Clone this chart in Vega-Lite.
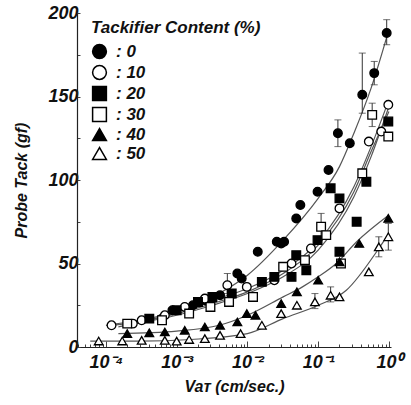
{
  "$schema": "https://vega.github.io/schema/vega-lite/v6.json",
  "autosize": {"type": "none"},
  "padding": {"left": 77, "top": 13, "right": 20, "bottom": 58},
  "width": 314,
  "height": 334,
  "background": "white",
  "config": {"view": {"stroke": null}},
  "datasets": {
    "pts": [
      {"s": "0", "x": 0.00062, "y": 17},
      {"s": "0", "x": 0.00087, "y": 22},
      {"s": "0", "x": 0.0017, "y": 25},
      {"s": "0", "x": 0.0025, "y": 28},
      {"s": "0", "x": 0.0041, "y": 31},
      {"s": "0", "x": 0.0072, "y": 44},
      {"s": "0", "x": 0.0083, "y": 41},
      {"s": "0", "x": 0.014, "y": 57},
      {"s": "0", "x": 0.026, "y": 63},
      {"s": "0", "x": 0.033, "y": 63},
      {"s": "0", "x": 0.030, "y": 62},
      {"s": "0", "x": 0.049, "y": 77},
      {"s": "0", "x": 0.056, "y": 85},
      {"s": "0", "x": 0.098, "y": 93},
      {"s": "0", "x": 0.14, "y": 106},
      {"s": "0", "x": 0.19, "y": 128, "lo": 120, "hi": 136},
      {"s": "0", "x": 0.28, "y": 122},
      {"s": "0", "x": 0.42, "y": 151, "lo": 140, "hi": 176},
      {"s": "0", "x": 0.62, "y": 164, "lo": 157, "hi": 171},
      {"s": "0", "x": 0.93, "y": 188, "lo": 181, "hi": 196},
      {"s": "10", "x": 0.00012, "y": 13},
      {"s": "10", "x": 0.00024, "y": 14},
      {"s": "10", "x": 0.00032, "y": 16},
      {"s": "10", "x": 0.00068, "y": 19},
      {"s": "10", "x": 0.0013, "y": 24},
      {"s": "10", "x": 0.0025, "y": 29},
      {"s": "10", "x": 0.0052, "y": 37, "lo": 32, "hi": 44},
      {"s": "10", "x": 0.0098, "y": 36},
      {"s": "10", "x": 0.024, "y": 40},
      {"s": "10", "x": 0.042, "y": 50},
      {"s": "10", "x": 0.079, "y": 59},
      {"s": "10", "x": 0.20, "y": 83},
      {"s": "10", "x": 0.52, "y": 123},
      {"s": "10", "x": 0.78, "y": 129},
      {"s": "10", "x": 0.98, "y": 145},
      {"s": "20", "x": 0.00041, "y": 17},
      {"s": "20", "x": 0.0010, "y": 22},
      {"s": "20", "x": 0.0020, "y": 27},
      {"s": "20", "x": 0.0032, "y": 30},
      {"s": "20", "x": 0.0060, "y": 32},
      {"s": "20", "x": 0.016, "y": 39},
      {"s": "20", "x": 0.024, "y": 42},
      {"s": "20", "x": 0.042, "y": 42},
      {"s": "20", "x": 0.049, "y": 55},
      {"s": "20", "x": 0.068, "y": 46},
      {"s": "20", "x": 0.098, "y": 64},
      {"s": "20", "x": 0.15, "y": 95},
      {"s": "20", "x": 0.20, "y": 89},
      {"s": "20", "x": 0.20, "y": 57},
      {"s": "20", "x": 0.35, "y": 75},
      {"s": "20", "x": 0.48, "y": 99},
      {"s": "20", "x": 0.98, "y": 135},
      {"s": "30", "x": 0.00020, "y": 14},
      {"s": "30", "x": 0.00062, "y": 16},
      {"s": "30", "x": 0.0015, "y": 20},
      {"s": "30", "x": 0.0030, "y": 24},
      {"s": "30", "x": 0.0055, "y": 27},
      {"s": "30", "x": 0.012, "y": 30},
      {"s": "30", "x": 0.032, "y": 48},
      {"s": "30", "x": 0.065, "y": 52},
      {"s": "30", "x": 0.11, "y": 72, "lo": 66, "hi": 80},
      {"s": "30", "x": 0.13, "y": 67},
      {"s": "30", "x": 0.21, "y": 50},
      {"s": "30", "x": 0.42, "y": 104},
      {"s": "30", "x": 0.58, "y": 139, "lo": 132, "hi": 146},
      {"s": "30", "x": 0.98, "y": 126},
      {"s": "40", "x": 0.00020, "y": 8},
      {"s": "40", "x": 0.00041, "y": 8.5},
      {"s": "40", "x": 0.00068, "y": 9},
      {"s": "40", "x": 0.0013, "y": 10},
      {"s": "40", "x": 0.0025, "y": 12},
      {"s": "40", "x": 0.0041, "y": 13},
      {"s": "40", "x": 0.0072, "y": 15},
      {"s": "40", "x": 0.0098, "y": 20},
      {"s": "40", "x": 0.013, "y": 19},
      {"s": "40", "x": 0.030, "y": 26},
      {"s": "40", "x": 0.050, "y": 33},
      {"s": "40", "x": 0.10, "y": 40},
      {"s": "40", "x": 0.20, "y": 51},
      {"s": "40", "x": 0.38, "y": 62},
      {"s": "40", "x": 0.98, "y": 77},
      {"s": "50", "x": 0.000079, "y": 3.6},
      {"s": "50", "x": 0.00017, "y": 3.6},
      {"s": "50", "x": 0.00032, "y": 4},
      {"s": "50", "x": 0.00068, "y": 4},
      {"s": "50", "x": 0.0010, "y": 3.5},
      {"s": "50", "x": 0.0015, "y": 4.5},
      {"s": "50", "x": 0.0025, "y": 5},
      {"s": "50", "x": 0.0041, "y": 7},
      {"s": "50", "x": 0.0080, "y": 8},
      {"s": "50", "x": 0.016, "y": 13},
      {"s": "50", "x": 0.030, "y": 20},
      {"s": "50", "x": 0.050, "y": 25},
      {"s": "50", "x": 0.090, "y": 27, "lo": 23, "hi": 32},
      {"s": "50", "x": 0.15, "y": 31, "lo": 27, "hi": 36},
      {"s": "50", "x": 0.20, "y": 30},
      {"s": "50", "x": 0.52, "y": 45},
      {"s": "50", "x": 0.72, "y": 60, "lo": 54, "hi": 66},
      {"s": "50", "x": 0.98, "y": 66, "lo": 58, "hi": 74}
    ],
    "fit": [
      {"s": "0", "x": 0.00012, "y": 13},
      {"s": "0", "x": 0.0003, "y": 15},
      {"s": "0", "x": 0.001, "y": 21},
      {"s": "0", "x": 0.0032, "y": 30},
      {"s": "0", "x": 0.01, "y": 43},
      {"s": "0", "x": 0.032, "y": 64},
      {"s": "0", "x": 0.1, "y": 89},
      {"s": "0", "x": 0.2, "y": 108},
      {"s": "0", "x": 0.32, "y": 128},
      {"s": "0", "x": 0.56, "y": 155},
      {"s": "0", "x": 1.0, "y": 190},
      {"s": "10", "x": 0.0001, "y": 13},
      {"s": "10", "x": 0.0003, "y": 16},
      {"s": "10", "x": 0.001, "y": 21},
      {"s": "10", "x": 0.0032, "y": 28},
      {"s": "10", "x": 0.01, "y": 35},
      {"s": "10", "x": 0.032, "y": 46},
      {"s": "10", "x": 0.1, "y": 63},
      {"s": "10", "x": 0.32, "y": 96},
      {"s": "10", "x": 0.56, "y": 120},
      {"s": "10", "x": 1.0, "y": 148},
      {"s": "20", "x": 0.0002, "y": 13},
      {"s": "20", "x": 0.001, "y": 19},
      {"s": "20", "x": 0.0032, "y": 25},
      {"s": "20", "x": 0.01, "y": 32},
      {"s": "20", "x": 0.032, "y": 42},
      {"s": "20", "x": 0.1, "y": 58},
      {"s": "20", "x": 0.32, "y": 90},
      {"s": "20", "x": 0.56, "y": 114},
      {"s": "20", "x": 1.0, "y": 144},
      {"s": "30", "x": 0.00015, "y": 12},
      {"s": "30", "x": 0.001, "y": 20},
      {"s": "30", "x": 0.0032, "y": 26},
      {"s": "30", "x": 0.01, "y": 33},
      {"s": "30", "x": 0.032, "y": 44},
      {"s": "30", "x": 0.1, "y": 61},
      {"s": "30", "x": 0.32, "y": 93},
      {"s": "30", "x": 0.56, "y": 117},
      {"s": "30", "x": 1.0, "y": 141},
      {"s": "40", "x": 0.00015, "y": 8},
      {"s": "40", "x": 0.001, "y": 9.5},
      {"s": "40", "x": 0.004, "y": 13},
      {"s": "40", "x": 0.01, "y": 19},
      {"s": "40", "x": 0.032, "y": 30},
      {"s": "40", "x": 0.06, "y": 36},
      {"s": "40", "x": 0.1, "y": 42},
      {"s": "40", "x": 0.18, "y": 50},
      {"s": "40", "x": 0.35, "y": 63},
      {"s": "40", "x": 1.0, "y": 79},
      {"s": "50", "x": 0.00006, "y": 3.5},
      {"s": "50", "x": 0.0003, "y": 3.5},
      {"s": "50", "x": 0.0016, "y": 4.5},
      {"s": "50", "x": 0.01, "y": 8},
      {"s": "50", "x": 0.032, "y": 17},
      {"s": "50", "x": 0.1, "y": 25},
      {"s": "50", "x": 0.25, "y": 34},
      {"s": "50", "x": 0.72, "y": 59},
      {"s": "50", "x": 1.0, "y": 68}
    ]
  },
  "layer": [
    {
      "data": {"name": "fit"},
      "mark": {"type": "line", "stroke": "#555", "strokeWidth": 1.2, "interpolate": "monotone"},
      "encoding": {
        "x": {
          "field": "x", "type": "quantitative",
          "scale": {"type": "log", "domain": [0.000039, 1.07], "nice": false},
          "axis": {
            "values": [0.00004,0.00005,0.00006,0.00007,0.00008,0.00009,0.0001,0.0002,0.0003,0.0004,0.0005,0.0006,0.0007,0.0008,0.0009,0.001,0.002,0.003,0.004,0.005,0.006,0.007,0.008,0.009,0.01,0.02,0.03,0.04,0.05,0.06,0.07,0.08,0.09,0.1,0.2,0.3,0.4,0.5,0.6,0.7,0.8,0.9,1],
            "labelExpr": "datum.value == 0.0001 ? '10⁻⁴' : datum.value == 0.001 ? '10⁻³' : datum.value == 0.01 ? '10⁻²' : datum.value == 0.1 ? '10⁻¹' : datum.value == 1 ? '10⁰' : ''",
            "title": "Vaᴛ (cm/sec.)",
            "grid": false,
            "tickSize": {"condition": {"test": "indexof([0.0001,0.001,0.01,0.1,1], datum.value) >= 0", "value": -6}, "value": -3},
            "labelPadding": 12,
            "labelFont": "Liberation Sans", "labelFontSize": 18, "labelFontWeight": "bold", "labelFontStyle": "italic", "labelColor": "#111",
            "labelOverlap": false, "labelFlush": false,
            "titleFont": "Liberation Sans", "titleFontSize": 16, "titleFontWeight": "bold", "titleFontStyle": "italic", "titleColor": "#111",
            "titlePadding": 4,
            "domainColor": "#222", "tickColor": "#444", "domainWidth": 1.2
          }
        },
        "y": {
          "field": "y", "type": "quantitative",
          "scale": {"domain": [0, 200], "nice": false},
          "axis": {
            "values": [0, 25, 50, 75, 100, 125, 150, 175, 200],
            "labelExpr": "datum.value % 50 == 0 ? datum.label : ''",
            "title": "Probe Tack (gf)",
            "grid": false,
            "tickSize": -3,
            "labelPadding": 2,
            "labelFont": "Liberation Sans", "labelFontSize": 18, "labelFontWeight": "bold", "labelFontStyle": "italic", "labelColor": "#111",
            "titleFont": "Liberation Sans", "titleFontSize": 16, "titleFontWeight": "bold", "titleFontStyle": "italic", "titleColor": "#111",
            "titlePadding": 18,
            "domainColor": "#222", "tickColor": "#444", "domainWidth": 1.2
          }
        },
        "detail": {"field": "s"}
      }
    },
    {
      "mark": {"type": "rule", "color": "#333", "strokeWidth": 1.2},
      "encoding": {"y": {"datum": 200}}
    },
    {
      "data": {"name": "pts"},
      "transform": [{"filter": "isValid(datum.lo)"}],
      "layer": [
        {"mark": {"type": "rule", "color": "#333", "strokeWidth": 1},
         "encoding": {"x": {"field": "x", "type": "quantitative"}, "y": {"field": "lo", "type": "quantitative"}, "y2": {"field": "hi"}}},
        {"mark": {"type": "tick", "orient": "horizontal", "color": "#333", "size": 7, "thickness": 1},
         "encoding": {"x": {"field": "x", "type": "quantitative"}, "y": {"field": "hi", "type": "quantitative"}}},
        {"mark": {"type": "tick", "orient": "horizontal", "color": "#333", "size": 7, "thickness": 1},
         "encoding": {"x": {"field": "x", "type": "quantitative"}, "y": {"field": "lo", "type": "quantitative"}}}
      ]
    },
    {
      "data": {"name": "pts"},
      "mark": {"type": "point", "filled": true, "strokeWidth": 1.3, "size": 75, "opacity": 1, "strokeOpacity": 1},
      "encoding": {
        "x": {"field": "x", "type": "quantitative"},
        "y": {"field": "y", "type": "quantitative"},
        "shape": {
          "field": "s", "type": "nominal", "title": "Tackifier Content (%)",
          "scale": {"domain": ["0","10","20","30","40","50"], "range": ["circle","circle","square","square","triangle-up","triangle-up"]},
          "legend": {
            "orient": "none", "legendX": 14, "legendY": 7,
            "labelExpr": "': ' + datum.label",
            "titleFont": "Liberation Sans", "titleFontSize": 17, "titleFontWeight": "bold", "titleFontStyle": "italic", "titleColor": "#111",
            "labelFont": "Liberation Sans", "labelFontSize": 17, "labelFontWeight": "bold", "labelFontStyle": "italic", "labelColor": "#111",
            "symbolSize": 190, "symbolStrokeWidth": 1.5, "symbolOpacity": 1,
            "rowPadding": 0, "titlePadding": 6, "labelOffset": 8
          }
        },
        "fill": {
          "field": "s", "type": "nominal", "title": "Tackifier Content (%)",
          "scale": {"domain": ["0","10","20","30","40","50"], "range": ["black","white","black","white","black","white"]}
        },
        "stroke": {
          "field": "s", "type": "nominal", "title": "Tackifier Content (%)",
          "scale": {"domain": ["0","10","20","30","40","50"], "range": ["black","black","black","black","black","black"]}
        }
      }
    }
  ]
}
